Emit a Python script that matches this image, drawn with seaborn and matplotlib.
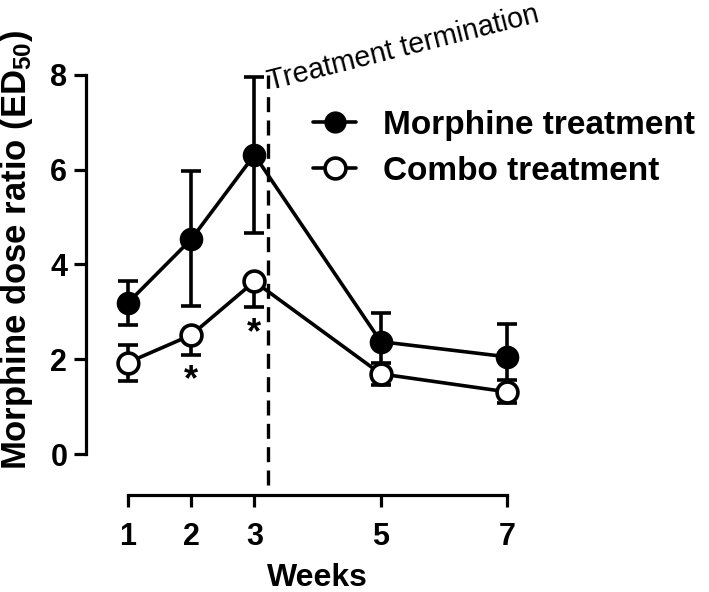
import matplotlib
matplotlib.use("Agg")
import matplotlib.pyplot as plt
import seaborn as sns
import pandas as pd
import numpy as np
from matplotlib.lines import Line2D

# ---- data ----
weeks = [1, 2, 3, 5, 7]
morphine_mean = [3.19, 4.53, 6.31, 2.37, 2.05]
morphine_err_low = [0.47, 1.40, 1.65, 0.61, 0.69]
morphine_err_high = [0.47, 1.43, 1.65, 0.61, 0.69]
combo_mean = [1.93, 2.51, 3.64, 1.69, 1.31]
combo_err_low = [0.40, 0.42, 0.53, 0.23, 0.24]
combo_err_high = [0.38, 0.0, 0.0, 0.23, 0.25]
series_names = ["Morphine treatment", "Combo treatment"]
star_weeks = [2, 3]
star_y = [1.73, 2.72]
termination_week = 3.22
x_ticks = [1, 2, 3, 5, 7]
y_ticks = [0, 2, 4, 6, 8]

sns.set_theme(style="ticks")
plt.rcParams["font.family"] = ["Liberation Sans", "DejaVu Sans"]
plt.rcParams["mathtext.fontset"] = "custom"
plt.rcParams["mathtext.rm"] = "Liberation Sans:bold"
plt.rcParams["mathtext.it"] = "Liberation Sans:bold"
plt.rcParams["mathtext.bf"] = "Liberation Sans:bold"
for k in ["text.color", "axes.labelcolor", "xtick.color", "ytick.color", "axes.edgecolor"]:
    plt.rcParams[k] = "black"

W, H = 709, 592
fig = plt.figure(figsize=(W / 100, H / 100), dpi=100)
left_px, right_px, top_px, bottom_px = 86, 705, 5, 495
ax = fig.add_axes([left_px / W, 1 - bottom_px / H, (right_px - left_px) / W, (bottom_px - top_px) / H])

px_per_x = 63.2
px_per_y = 47.4
x0_px, y0_px = 128, 454
ax.set_xlim(1 - (x0_px - left_px) / px_per_x, 1 + (right_px - x0_px) / px_per_x)
ax.set_ylim(-(bottom_px - y0_px) / px_per_y, (y0_px - top_px) / px_per_y)

df = pd.DataFrame({
    "Weeks": weeks * 2,
    "value": morphine_mean + combo_mean,
    "series": [series_names[0]] * len(weeks) + [series_names[1]] * len(weeks),
})

lw = 2.6
ms = 15
ax.errorbar(weeks, morphine_mean, yerr=[morphine_err_low, morphine_err_high], fmt="none",
            ecolor="black", elinewidth=lw, capsize=7.5, capthick=lw, zorder=2)
ax.errorbar(weeks, combo_mean, yerr=[combo_err_low, combo_err_high], fmt="none",
            ecolor="black", elinewidth=lw, capsize=7.5, capthick=lw, zorder=4)

sns.lineplot(data=df[df.series == series_names[0]], x="Weeks", y="value", ax=ax,
             color="black", linewidth=lw, marker="o", markersize=ms,
             markerfacecolor="black", markeredgecolor="black", markeredgewidth=2,
             zorder=3, legend=False)
sns.lineplot(data=df[df.series == series_names[1]], x="Weeks", y="value", ax=ax,
             color="black", linewidth=lw, marker="o", markersize=ms,
             markerfacecolor="white", markeredgecolor="black", markeredgewidth=2.6,
             zorder=5, legend=False)

# termination line
ax.plot([termination_week, termination_week], [-0.65, 8.0], color="black",
        linestyle=(0, (4.5, 2.5)), linewidth=2.4, zorder=1)
term_txt = ax.text(termination_week + 0.03, 7.67, "Treatment termination", rotation=14.2,
                   rotation_mode="anchor", ha="left", va="baseline", fontsize=20.6, color="black")

# asterisks
for xw, yw in zip(star_weeks, star_y):
    ax.annotate("*", xy=(xw, yw), xytext=(0, -6), textcoords="offset points",
                ha="center", va="center", fontsize=26, fontweight="bold", color="black")

# axes styling
sns.despine(ax=ax)
ax.spines["left"].set_bounds(0, 8)
ax.spines["bottom"].set_bounds(1, 7)
for s in ["left", "bottom"]:
    ax.spines[s].set_linewidth(2.3)
ax.set_xticks(x_ticks)
ax.set_yticks(y_ticks)
ax.tick_params(axis="both", width=2.3, length=8.5, labelsize=22)
ax.tick_params(axis="y", pad=5)
ax.tick_params(axis="x", pad=11)
for lab in ax.get_xticklabels() + ax.get_yticklabels():
    lab.set_fontweight("bold")
ax.set_xlabel("Weeks", fontsize=23, fontweight="bold")
ylab = ax.set_ylabel("Morphine dose ratio (ED$_{50}$)", fontsize=22, fontweight="bold")
xl = ax.get_xlim()
ax.xaxis.set_label_coords((4 - xl[0]) / (xl[1] - xl[0]), -0.138)

handles = [
    Line2D([], [], color="black", linewidth=lw, marker="o", markersize=ms,
           markerfacecolor="black", markeredgecolor="black"),
    Line2D([], [], color="black", linewidth=lw, marker="o", markersize=ms,
           markerfacecolor="white", markeredgecolor="black", markeredgewidth=2.6),
]
leg = fig.legend(handles, series_names, loc="upper left", bbox_to_anchor=(313 / W, 1 - 110 / H),
                 frameon=False, handlelength=1.3, handletextpad=0.8, labelspacing=0.45,
                 borderpad=0, borderaxespad=0, prop={"size": 24, "weight": "bold"})

# fit y label length to the reference (~440 px)
fig.canvas.draw()
r = fig.canvas.get_renderer()
ext = ylab.get_window_extent(r)
ylab.set_fontsize(22 * 440 / ext.height)
ax.yaxis.set_label_coords((17 - left_px) / (right_px - left_px), (bottom_px - 250) / (bottom_px - top_px))
ylab.set_verticalalignment("center")

fig.savefig("out.png", dpi=100)
